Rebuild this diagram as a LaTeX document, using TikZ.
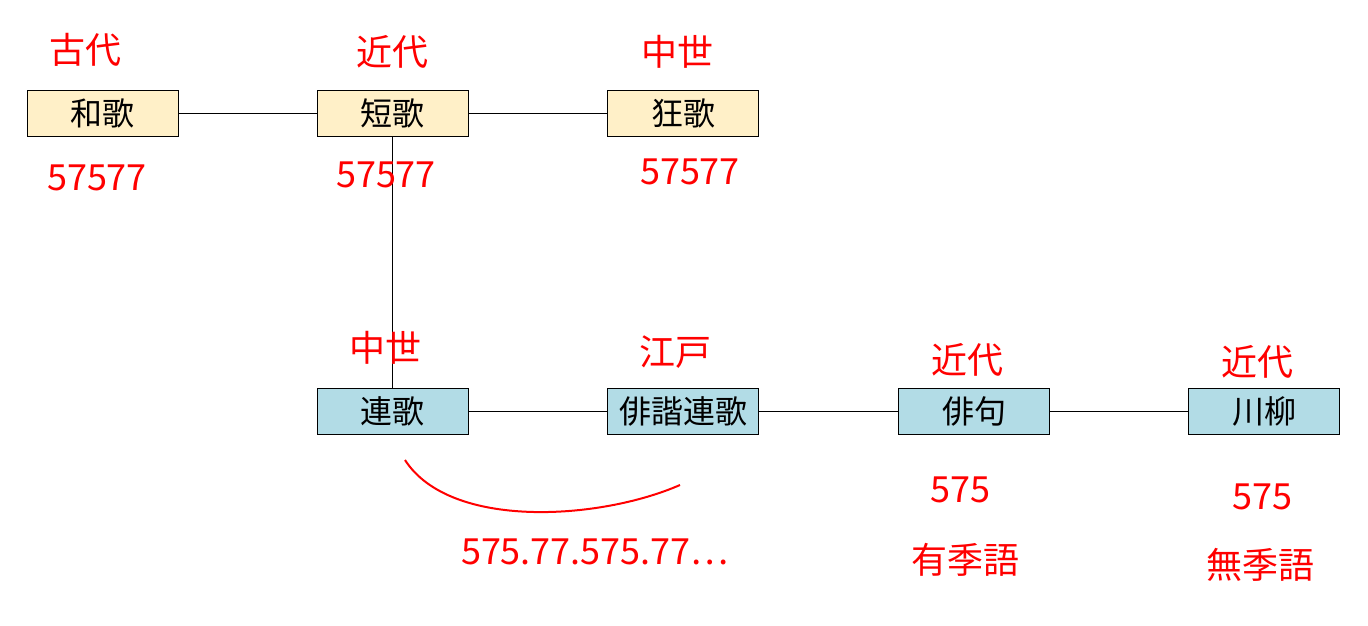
\documentclass[tikz,border=0pt]{standalone}
\usepackage{fontspec}
\setmainfont{Noto Sans CJK JP}
\begin{document}
\begin{tikzpicture}[x=1pt,y=-1pt,
  box/.style={draw=black,line width=1pt,minimum width=151pt,minimum height=46pt,inner sep=0pt,font=\fontsize{32}{34}\selectfont},
  ann/.style={text=red,font=\fontsize{36}{38}\selectfont,inner sep=0pt},
  ln/.style={line width=1pt}]
\useasboundingbox (0,0) rectangle (1368,626);
\definecolor{yel}{HTML}{FFF0C8}\definecolor{blu}{HTML}{B2DCE6}
\node[box,fill=yel] (waka) at (102.5,113) {和歌};
\node[box,fill=yel] (tanka) at (392.5,113) {短歌};
\node[box,fill=yel] (kyoka) at (683,113) {狂歌};
\node[box,fill=blu] (renga) at (392.5,411) {連歌};
\node[box,fill=blu] (haikai) at (683,411) {俳諧連歌};
\node[box,fill=blu] (haiku) at (974,411) {俳句};
\node[box,fill=blu] (senryu) at (1264,411) {川柳};
\draw[ln] (waka) -- (tanka);
\draw[ln] (tanka) -- (kyoka);
\draw[ln] (tanka) -- (renga);
\draw[ln] (renga) -- (haikai);
\draw[ln] (haikai) -- (haiku);
\draw[ln] (haiku) -- (senryu);
\node[ann] (a1) at (85,50) {古代};
\node[ann] (a2) at (392,52) {近代};
\node[ann] (a3) at (677,52) {中世};
\node[ann] (n1) at (97,178) {57577};
\node[ann] (n2) at (386,175) {57577};
\node[ann] (n3) at (690,172) {57577};
\node[ann] (a4) at (385,348) {中世};
\node[ann] (a5) at (675,352) {江戸};
\node[ann] (a6) at (967,360) {近代};
\node[ann] (a7) at (1257,362) {近代};
\node[ann] (n4) at (960,490) {575};
\node[ann] (n5) at (1262,497) {575};
\node[ann] (k1) at (965,560) {有季語};
\node[ann] (k2) at (1260,565) {無季語};
\node[ann] (n6) at (595,552) {575.77.575.77…};
\coordinate (c1) at (405,460);\coordinate (c2) at (680,485);
\draw[red,line width=2pt] (c1) .. controls (450,530) and (600,520) .. (c2);
\end{tikzpicture}
\end{document}
